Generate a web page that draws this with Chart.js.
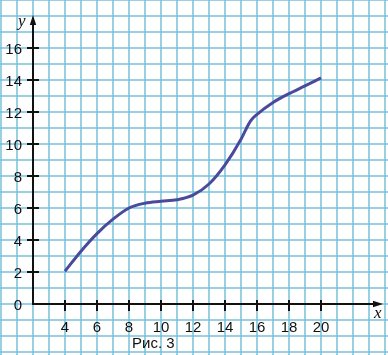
<!DOCTYPE html>
<html>
<head>
<meta charset="utf-8">
<script src="https://cdn.jsdelivr.net/npm/chart.js@4.4.0/dist/chart.umd.min.js"></script>
<style>
  html, body { margin: 0; padding: 0; background: #fff; overflow: hidden; }
</style>
</head>
<body>
<canvas id="graph" width="388" height="355"></canvas>
<script>
// Curve
var xValues = [4, 5, 6, 7, 8, 9, 10, 11, 12, 13, 14, 15, 15.3, 15.6, 16, 17, 18, 19, 20];
var yValues = [2.05, 3.3, 4.4, 5.3, 6.0, 6.3, 6.42, 6.52, 6.8, 7.5, 8.7, 10.3, 10.9, 11.45, 11.85, 12.6, 13.15, 13.63, 14.13];

// Axis labels
var xTickLabels = [4, 6, 8, 10, 12, 14, 16, 18, 20];
var yTickLabels = [0, 2, 4, 6, 8, 10, 12, 14, 16];
var axisOriginX = 2;      // the y axis is drawn here (broken scale, labelled 0)
var xArrowAt = 23.875;
var yArrowAt = 18.06;
var caption = 'Рис. 3';

var points = xValues.map(function (x, i) { return { x: x, y: yValues[i] }; });

// axes, arrows, tick marks and labels drawn on top of the grid
var axesPlugin = {
    id: 'axes',
    beforeDatasetsDraw: function (chart) {
        var ctx = chart.ctx;
        var xs = chart.scales.x, ys = chart.scales.y;
        var ox = xs.getPixelForValue(axisOriginX);
        var oy = ys.getPixelForValue(0);
        var xEnd = xs.getPixelForValue(xArrowAt);
        var yEnd = ys.getPixelForValue(yArrowAt);

        ctx.save();
        ctx.strokeStyle = '#111';
        ctx.fillStyle = '#111';
        ctx.lineWidth = 2;

        ctx.beginPath();
        ctx.moveTo(ox - 1, oy);
        ctx.lineTo(xEnd - 6, oy);
        ctx.moveTo(ox, oy + 1);
        ctx.lineTo(ox, yEnd + 6);
        ctx.stroke();

        // arrow heads
        ctx.beginPath();
        ctx.moveTo(xEnd, oy);
        ctx.lineTo(xEnd - 10, oy - 3.2);
        ctx.lineTo(xEnd - 10, oy + 3.2);
        ctx.closePath();
        ctx.fill();
        ctx.beginPath();
        ctx.moveTo(ox, yEnd);
        ctx.lineTo(ox - 3.2, yEnd + 10);
        ctx.lineTo(ox + 3.2, yEnd + 10);
        ctx.closePath();
        ctx.fill();

        ctx.font = '15px "Liberation Sans", Arial, sans-serif';

        // x ticks
        ctx.textAlign = 'center';
        ctx.textBaseline = 'alphabetic';
        xTickLabels.forEach(function (v) {
            var px = xs.getPixelForValue(v);
            ctx.beginPath();
            ctx.moveTo(px, oy - 4);
            ctx.lineTo(px, oy + 7);
            ctx.stroke();
            ctx.fillText(String(v), px, oy + 28);
        });

        // y ticks
        ctx.textAlign = 'right';
        yTickLabels.forEach(function (v) {
            var py = ys.getPixelForValue(v);
            if (v !== 0) {
                ctx.beginPath();
                ctx.moveTo(ox - 6, py);
                ctx.lineTo(ox + 6, py);
                ctx.stroke();
            }
            ctx.fillText(String(v), ox - 11, py + 5.5);
        });

        // axis names
        ctx.font = 'italic 17px "Liberation Serif", "Times New Roman", serif';
        ctx.textAlign = 'left';
        ctx.fillText('y', 18, 26);
        ctx.fillText('x', 374, 318);

        // caption
        ctx.font = '15px "Liberation Sans", Arial, sans-serif';
        ctx.fillText(caption, 132, 348);
        ctx.restore();
    }
};

var gridColor = 'rgba(110, 188, 215, 0.7)';

new Chart(document.getElementById('graph').getContext('2d'), {
    type: 'line',
    data: {
        datasets: [{
            data: points,
            borderColor: '#4a4a9c',
            borderWidth: 3,
            pointRadius: 0,
            cubicInterpolationMode: 'monotone',
            fill: false
        }]
    },
    options: {
        responsive: false,
        animation: false,
        devicePixelRatio: 1,
        layout: { padding: 0 },
        plugins: {
            legend: { display: false },
            tooltip: { enabled: false }
        },
        scales: {
            x: {
                type: 'linear',
                min: -0.0625,
                max: 24.1875,
                border: { display: false },
                grid: { color: gridColor, lineWidth: 2, drawTicks: false },
                ticks: { display: false, stepSize: 1, includeBounds: false }
            },
            y: {
                type: 'linear',
                min: -3.1875,
                max: 19,
                border: { display: false },
                grid: { color: gridColor, lineWidth: 2, drawTicks: false },
                ticks: { display: false, stepSize: 1, includeBounds: false }
            }
        }
    },
    plugins: [axesPlugin]
});
</script>
</body>
</html>
